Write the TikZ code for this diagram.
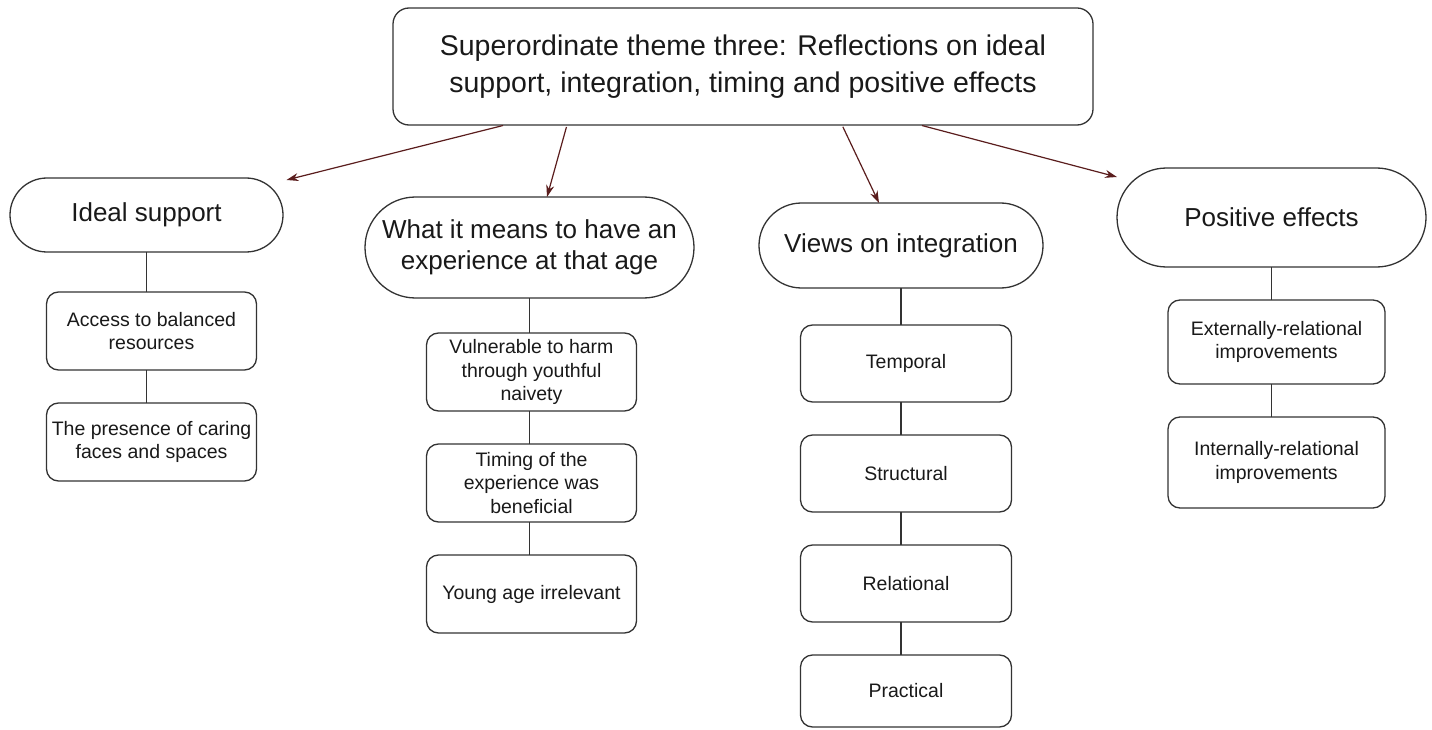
\documentclass[tikz,border=0pt]{standalone}
\usepackage{fontspec}
\setmainfont{Liberation Sans}
\usepackage{tikz}
\usetikzlibrary{positioning,arrows.meta,shapes.misc}
\usepackage{xcolor}
\definecolor{linegray}{HTML}{333333}
\definecolor{arrowred}{HTML}{5A1D1D}

\begin{document}
\begin{tikzpicture}[x=1pt,y=-1pt,node distance=33pt,
  every node/.style={draw=linegray, line width=1.3pt, align=center, text=black!90, outer sep=0pt},
  theme/.style={rounded corners=16pt, minimum width=700pt, minimum height=117pt, font=\fontsize{28.5}{37}\selectfont},
  sub/.style={rounded rectangle, inner sep=2pt, font=\fontsize{26}{31}\selectfont},
  item/.style={rounded corners=12pt, minimum width=210pt, minimum height=78pt, inner sep=2pt, font=\fontsize{19.5}{23.5}\selectfont},
  link/.style={draw=linegray, line width=1.3pt},
  arr/.style={draw=arrowred, line width=1.2pt, -{Stealth[length=12pt,width=8pt]}, shorten <=2pt}]

  \useasboundingbox (0,0) rectangle (1432,730);

  % theme
  \node(T)[theme] at (743,66.5) {Superordinate theme three: Reflections on ideal\\support, integration, timing and positive effects};

  % subthemes
  \node(I)[sub,minimum width=277pt,minimum height=74pt] at (146.5,215) {Ideal support};
  \node(W)[sub,minimum width=333pt,minimum height=101pt] at (529.5,247.5) {What it means to have an\\experience at that age};
  \node(V)[sub,minimum width=288pt,minimum height=85pt] at (901,245.5) {Views on integration};
  \node(P)[sub,minimum width=313pt,minimum height=99pt] at (1271.5,217.5) {Positive effects};

  \node(I1)[item,below=of I,xshift=5pt,yshift=-7pt] {Access to balanced\\resources};
  \node(I2)[item,below=of I1] {The presence of caring\\faces and spaces};

  \node(W1)[item,below=of W,xshift=2pt,yshift=-2pt] {Vulnerable to harm\\through youthful\\naivety};
  \node(W2)[item,below=of W1] {Timing of the\\experience was\\beneficial};
  \node(W3)[item,below=of W2] {Young age irrelevant};

  \node(V1)[item,below=of V,xshift=5pt,yshift=-4pt,minimum width=211pt,minimum height=77pt] {Temporal};
  \node(V2)[item,below=of V1,minimum width=211pt,minimum height=77pt] {Structural};
  \node(V3)[item,below=of V2,minimum width=211pt,minimum height=77pt] {Relational};
  \node(V4)[item,below=of V3,minimum width=211pt,minimum height=72pt] {Practical};

  \node(P1)[item,below=of P,xshift=5pt,minimum width=217pt,minimum height=84pt] {Externally-relational\\improvements};
  \node(P2)[item,below=of P1,minimum width=217pt,minimum height=91pt] {Internally-relational\\improvements};

  \foreach \c/\a/\b in {I/I/I1, I/I1/I2, W/W/W1, W/W1/W2, W/W2/W3,
      V/V/V1, V/V1/V2, V/V2/V3, V/V3/V4, P/P/P1, P/P1/P2}
    \draw[link] (\c |- \a.south) -- (\c |- \b.north);

  \draw[arr] ([xshift=-238pt]T.south) -- ([xshift=140pt,yshift=-2pt]I.north);
  \draw[arr] ([xshift=-176pt]T.south) -- ([xshift=17.5pt]W.north);
  \draw[arr] ([xshift=99pt]T.south) -- ([xshift=-22pt]V.north);
  \draw[arr] ([xshift=177pt]T.south) -- ([xshift=-154.5pt,yshift=-9pt]P.north);
\end{tikzpicture}
\end{document}
